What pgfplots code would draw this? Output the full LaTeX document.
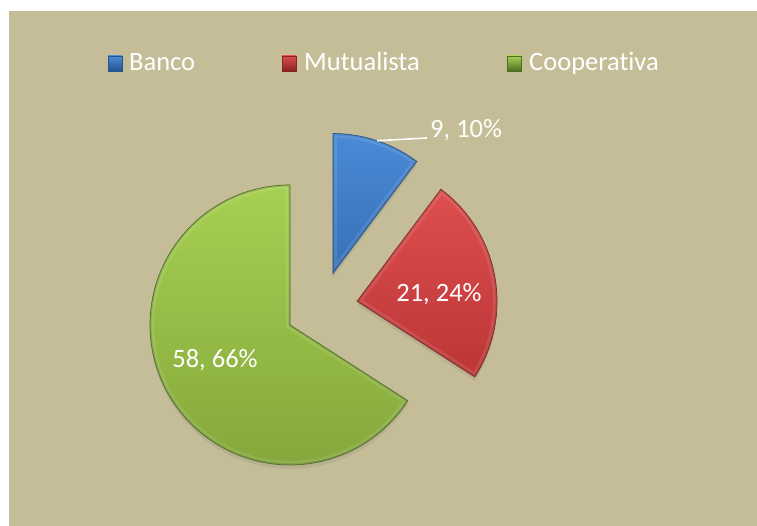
\documentclass[border=0pt]{standalone}
\usepackage{pgfplots}
\pgfplotsset{compat=1.18}
\usepackage{pgfplotstable}
\usepackage{fontspec}
\setmainfont{Carlito}[Ligatures=NoCommon]
\usetikzlibrary{shadows}

\definecolor{bgtan}{HTML}{C4BD97}
\definecolor{blueL}{HTML}{4A8AD6}
\definecolor{blueD}{HTML}{3670B8}
\definecolor{blueE}{HTML}{25548E}
\definecolor{redL}{HTML}{DE4E4E}
\definecolor{redD}{HTML}{BC3636}
\definecolor{redE}{HTML}{862222}
\definecolor{greenL}{HTML}{A6D052}
\definecolor{greenD}{HTML}{82A53A}
\definecolor{greenE}{HTML}{4E6E22}

\newcommand\bigtxt{\fontsize{26.5}{31}\selectfont}

% one wedge: vertex x, vertex y, start angle, end angle, style
\newcommand\slice[5]{%
  \path[#5] (axis cs:#1,#2) -- ++(#3:\R pt)
    arc[start angle=#3, end angle=#4, radius=\R pt] -- cycle;
  \begin{scope}
    \clip (axis cs:#1,#2) -- ++(#3:\R pt)
      arc[start angle=#3, end angle=#4, radius=\R pt] -- cycle;
    \draw[white, opacity=0.10, line width=8pt] (axis cs:#1,#2) -- ++(#3:\R pt)
      arc[start angle=#3, end angle=#4, radius=\R pt] -- cycle;
    \draw[black, opacity=0.12, line width=3pt] (axis cs:#1,#2) -- ++(#3:\R pt)
      arc[start angle=#3, end angle=#4, radius=\R pt] -- cycle;
  \end{scope}}

\begin{document}
\pgfplotstableread{
name value
Banco 9
Mutualista 21
Cooperativa 58
}\piedata
\begin{tikzpicture}
\pgfplotstablegetelem{0}{value}\of\piedata\edef\va{\pgfplotsretval}
\pgfplotstablegetelem{1}{value}\of\piedata\edef\vb{\pgfplotsretval}
\pgfplotstablegetelem{2}{value}\of\piedata\edef\vc{\pgfplotsretval}
\def\cx{321.6}\def\cy{218.3}\def\R{140}\def\ex{36}
\pgfmathsetmacro\tot{\va+\vb+\vc}
\pgfmathsetmacro\aA{90}
\pgfmathsetmacro\aB{\aA-\va/\tot*360}
\pgfmathsetmacro\aC{\aB-\vb/\tot*360}
\pgfmathsetmacro\aD{\aC-\vc/\tot*360}
\pgfmathsetmacro\mA{(\aA+\aB)/2}
\pgfmathsetmacro\mB{(\aB+\aC)/2}
\pgfmathsetmacro\mC{(\aC+\aD)/2}
\pgfmathsetmacro\xA{\cx+\ex*cos(\mA)}\pgfmathsetmacro\yA{\cy+\ex*sin(\mA)}
\pgfmathsetmacro\xB{\cx+\ex*cos(\mB)}\pgfmathsetmacro\yB{\cy+\ex*sin(\mB)}
\pgfmathsetmacro\xC{\cx+\ex*cos(\mC)}\pgfmathsetmacro\yC{\cy+\ex*sin(\mC)}
\pgfmathsetmacro\lxA{\xA+\R*cos(\mA)}\pgfmathsetmacro\lyA{\yA+\R*sin(\mA)}
\pgfmathtruncatemacro\pA{round(\va/\tot*100)}
\pgfmathtruncatemacro\pB{round(\vb/\tot*100)}
\pgfmathtruncatemacro\pC{round(\vc/\tot*100)}
\begin{axis}[
  scale only axis, width=757pt, height=526pt,
  xmin=0, xmax=757, ymin=0, ymax=526,
  axis lines=none, ticks=none, clip=false,
]
\fill[white] (axis cs:0,0) rectangle (axis cs:757,526);
\fill[bgtan] (axis cs:9,0) rectangle (axis cs:757,515);

% wedges
\slice{\xC}{\yC}{\aC}{\aD}{top color=greenL, bottom color=greenD, draw=greenE, line width=0.7pt,
  drop shadow={shadow xshift=0pt, shadow yshift=-4pt, opacity=0.18}}
\slice{\xB}{\yB}{\aB}{\aC}{top color=redL, bottom color=redD, draw=redE, line width=0.7pt,
  drop shadow={shadow xshift=0pt, shadow yshift=-4pt, opacity=0.18}}
\slice{\xA}{\yA}{\aA}{\aB}{top color=blueL, bottom color=blueD, draw=blueE, line width=0.7pt,
  drop shadow={shadow xshift=0pt, shadow yshift=-4pt, opacity=0.18}}

% data labels
\draw[white, line width=1.6pt] (axis cs:\lxA,\lyA) -- (axis cs:427,388);
\node[white, font=\bigtxt, anchor=base west, inner sep=0pt] at (axis cs:430,388) {\va, \pA\%};
\node[white, font=\bigtxt, inner sep=0pt] at (axis cs:439,232) {\vb, \pB\%};
\node[white, font=\bigtxt, inner sep=0pt] at (axis cs:215,166) {\vc, \pC\%};

% legend
\path[top color=blueL, bottom color=blueE, draw=blueE, line width=0.6pt] (axis cs:108,455) rectangle (axis cs:122,470);
\node[white, font=\bigtxt, anchor=base west, inner sep=0pt] at (axis cs:129,455) {Banco};
\path[top color=redL, bottom color=redE, draw=redE, line width=0.6pt] (axis cs:282,455) rectangle (axis cs:296,470);
\node[white, font=\bigtxt, anchor=base west, inner sep=0pt] at (axis cs:304,455) {Mutualista};
\path[top color=greenL, bottom color=greenE, draw=greenE, line width=0.6pt] (axis cs:507,455) rectangle (axis cs:521,470);
\node[white, font=\bigtxt, anchor=base west, inner sep=0pt] at (axis cs:529,455) {Cooperativa};
\end{axis}
\end{tikzpicture}
\end{document}
